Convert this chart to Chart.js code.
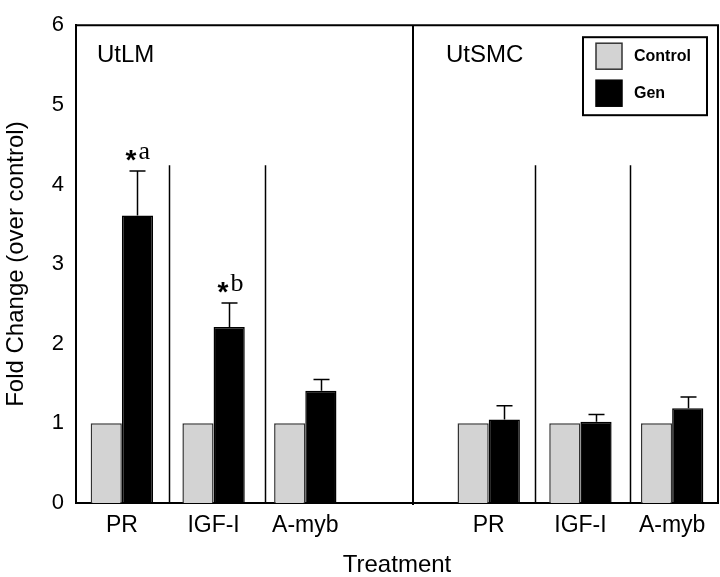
<!DOCTYPE html>
<html>
<head>
<meta charset="utf-8">
<script src="https://cdn.jsdelivr.net/npm/chart.js@4.4.1/dist/chart.umd.min.js"></script>
<style>
  html, body { margin: 0; padding: 0; background: #fff; }
  #wrap { width: 720px; height: 577px; }
</style>
</head>
<body>
<div id="wrap"><canvas id="chart" width="720" height="577"></canvas></div>
<script>
// data
const categories = ['PR', 'IGF-I', 'A-myb', '', 'PR', 'IGF-I', 'A-myb'];
const controlValues = [1, 1, 1, null, 1, 1, 1];
const genValues = [3.61, 2.21, 1.41, null, 1.05, 1.02, 1.19];
const genErrors = [0.56, 0.30, 0.14, null, 0.17, 0.09, 0.14];
const genMarks = ['*a', '*b', '', '', '', '', ''];
const yTicks = [0, 1, 2, 3, 4, 5, 6];
const panelLabels = ['UtLM', 'UtSMC'];

// separators, in category units (x) and value units (top)
const mainDivider = 3.175;
const subDividers = [0.51, 1.56, 4.5, 5.54];
const subDividerTop = 4.24;

const SANS = "'Liberation Sans', Arial, sans-serif";
const SERIF = "'Liberation Serif', 'Times New Roman', serif";
Chart.defaults.font.family = SANS;
Chart.defaults.color = '#000';

const decor = {
  id: 'decor',
  afterDatasetsDraw(chart) {
    const { ctx, chartArea: a, scales: { x, y } } = chart;
    ctx.save();
    ctx.strokeStyle = '#000';

    // frame top + right
    ctx.lineWidth = 2;
    ctx.beginPath();
    ctx.moveTo(a.left, a.top);
    ctx.lineTo(a.right, a.top);
    ctx.lineTo(a.right, a.bottom);
    ctx.stroke();

    // panel divider
    const mx = Math.round(x.getPixelForValue(mainDivider));
    ctx.beginPath();
    ctx.moveTo(mx, a.top);
    ctx.lineTo(mx, a.bottom + 2);
    ctx.stroke();

    // group dividers
    ctx.lineWidth = 1.5;
    subDividers.forEach(v => {
      const px = Math.round(x.getPixelForValue(v)) + 0.5;
      ctx.beginPath();
      ctx.moveTo(px, y.getPixelForValue(subDividerTop));
      ctx.lineTo(px, a.bottom);
      ctx.stroke();
    });

    // error bars (upper only) on Gen
    const meta = chart.getDatasetMeta(1);
    ctx.lineWidth = 1.5;
    meta.data.forEach((bar, i) => {
      if (genValues[i] == null) return;
      const top = y.getPixelForValue(genValues[i] + genErrors[i]);
      const cx = Math.round(bar.x) + 0.5;
      ctx.beginPath();
      ctx.moveTo(cx, bar.y);
      ctx.lineTo(cx, top);
      ctx.moveTo(cx - 8, top);
      ctx.lineTo(cx + 8, top);
      ctx.stroke();

      // significance marks
      const mark = genMarks[i];
      if (mark) {
        const base = top - 12;
        ctx.fillStyle = '#000';
        ctx.textBaseline = 'alphabetic';
        ctx.font = 'bold 28px ' + SANS;
        ctx.textAlign = 'right';
        ctx.fillText(mark[0], cx - 1, base + 10);
        ctx.font = '26px ' + SERIF;
        ctx.textAlign = 'left';
        ctx.fillText(mark.slice(1), cx + 1, base);
      }
    });

    // panel labels
    ctx.fillStyle = '#000';
    ctx.font = '24px ' + SANS;
    ctx.textAlign = 'left';
    ctx.textBaseline = 'alphabetic';
    ctx.fillText(panelLabels[0], a.left + 21, a.top + 37);
    ctx.fillText(panelLabels[1], mx + 33, a.top + 37);

    // legend box
    const bw = 124, bh = 78;
    const bx = a.right - 11 - bw, by = a.top + 12;
    ctx.lineWidth = 2;
    ctx.strokeRect(bx, by, bw, bh);
    ctx.font = 'bold 16px ' + SANS;
    ctx.textBaseline = 'middle';
    chart.data.datasets.forEach((ds, k) => {
      const sy = by + 6 + k * 37;
      ctx.fillStyle = ds.backgroundColor;
      ctx.fillRect(bx + 13, sy, 26, 26);
      ctx.lineWidth = 1.5;
      ctx.strokeStyle = ds.borderColor;
      ctx.strokeRect(bx + 13, sy, 26, 26);
      ctx.fillStyle = '#000';
      ctx.fillText(ds.label, bx + 51, sy + 13);
    });
    ctx.restore();
  }
};

new Chart(document.getElementById('chart'), {
  type: 'bar',
  data: {
    labels: categories,
    datasets: [
      {
        label: 'Control',
        data: controlValues,
        backgroundColor: '#d3d3d3',
        borderColor: '#333',
        borderWidth: 1.5,
      },
      {
        label: 'Gen',
        data: genValues,
        backgroundColor: '#000',
        borderColor: '#000',
        borderWidth: 1.5,
      },
    ],
  },
  options: {
    responsive: false,
    animation: false,
    devicePixelRatio: 1,
    categoryPercentage: 0.68,
    barPercentage: 1,
    layout: { padding: { top: 11, right: 2, left: 0, bottom: 0 } },
    plugins: {
      legend: { display: false },
      tooltip: { enabled: false },
    },
    scales: {
      x: {
        grid: { display: false, drawTicks: false },
        border: { display: true, color: '#000', width: 2 },
        ticks: { font: { size: 23 }, color: '#000', padding: 9 },
        title: {
          display: true, text: 'Treatment', color: '#000',
          font: { size: 24, lineHeight: 1 }, padding: { top: 0, bottom: 0 },
        },
        afterFit(s) { s.height = 74; },
      },
      y: {
        min: 0,
        max: 6,
        grid: { display: false, drawTicks: false },
        border: { display: true, color: '#000', width: 2 },
        ticks: { font: { size: 22 }, color: '#000', padding: 12 },
        afterBuildTicks(s) { s.ticks = yTicks.map(v => ({ value: v })); },
        title: {
          display: true, text: 'Fold Change (over control)', color: '#000',
          font: { size: 24 }, padding: { top: 2, bottom: 0 },
        },
        afterFit(s) { s.width = 76; },
      },
    },
  },
  plugins: [decor],
});
</script>
</body>
</html>
